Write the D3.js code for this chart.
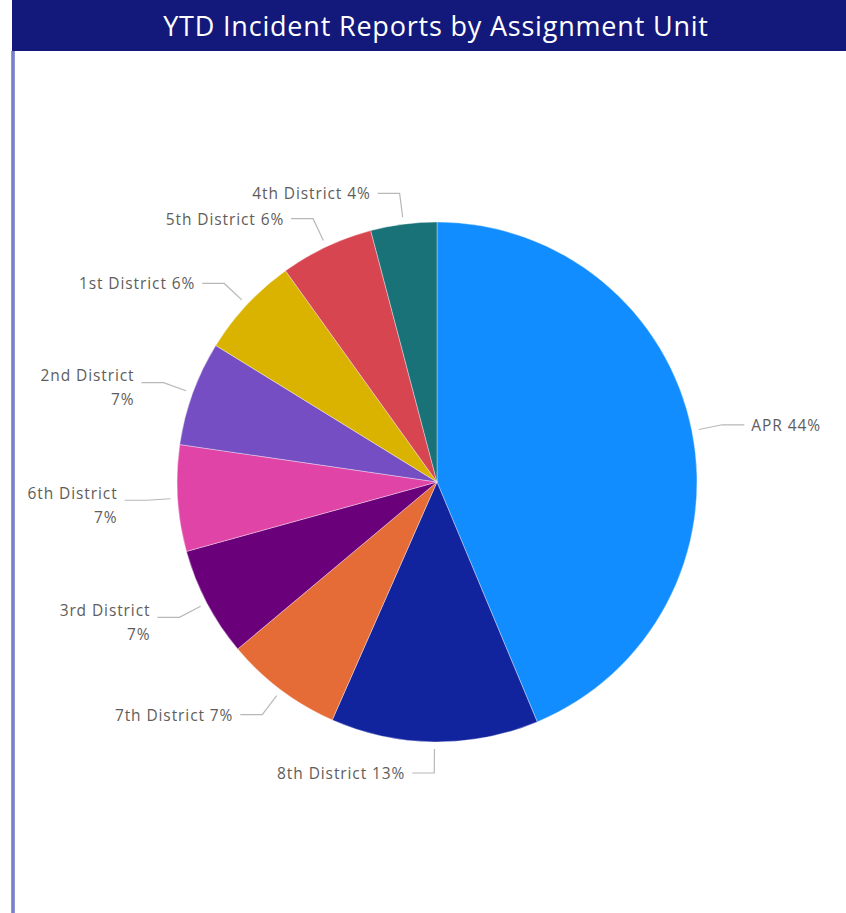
<!DOCTYPE html>
<html>
<head>
<meta charset="utf-8">
<script src="https://cdn.jsdelivr.net/npm/d3@7"></script>
<style>
  html, body { margin: 0; padding: 0; background: #fff; }
  svg { display: block; }
</style>
</head>
<body>
<svg id="chart" width="846" height="913"></svg>
<script>
const title = "YTD Incident Reports by Assignment Unit";
const categories = ["APR", "8th District", "7th District", "3rd District", "6th District", "2nd District", "1st District", "5th District", "4th District"];
const values = [43.7, 12.9, 7.3, 6.8, 6.6, 6.5, 6.3, 5.8, 4.1];
const colors = ["#118DFF", "#12239E", "#E66C37", "#6B007B", "#E044A7", "#744EC2", "#D9B300", "#D64550", "#197278"];

const W = 846, H = 913;
const svg = d3.select("#chart");

// frame
svg.append("rect").attr("x", 12).attr("y", 0).attr("width", W - 12).attr("height", 51).attr("fill", "#13197A");
svg.append("rect").attr("x", 11).attr("y", 51).attr("width", 4).attr("height", H - 51).attr("fill", "#9296D4");
svg.append("rect").attr("x", 12).attr("y", 51).attr("width", 2).attr("height", H - 51).attr("fill", "#7A7FC8");
svg.append("text").attr("x", 436).attr("y", 25).attr("text-anchor", "middle").attr("dominant-baseline", "central")
  .attr("fill", "#fff").attr("font-family", "'Open Sans', sans-serif").attr("font-size", 27)
  .attr("letter-spacing", 0.8)
  .text(title);

const cx = 437, cy = 482, r = 260;
const total = d3.sum(values);
const data = categories.map((c, i) => ({ name: c, value: values[i], color: colors[i], pct: Math.round(values[i] / total * 100) }));

const pie = d3.pie().value(d => d.value).sort(null);
const arcs = pie(data);
const arc = d3.arc().innerRadius(0).outerRadius(r);
const g = svg.append("g").attr("transform", `translate(${cx},${cy})`);

g.selectAll("path.slice").data(arcs).join("path")
  .attr("class", "slice")
  .attr("d", arc)
  .attr("fill", d => d.data.color)
  .attr("stroke", "#fff").attr("stroke-width", 0.6).attr("stroke-opacity", 0.6);

const anchorArc = d3.arc().innerRadius(r + 7).outerRadius(r + 7);
const elbowArc = d3.arc().innerRadius(r + 31).outerRadius(r + 31);

const labels = g.append("g");
arcs.forEach(a => {
  const mid = (a.startAngle + a.endAngle) / 2;
  const [ax, ay] = anchorArc.centroid(a);
  const [ex, ey] = elbowArc.centroid(a);
  const right = Math.sin(mid) > 0;
  const hx = ex + (right ? 22 : -22);
  labels.append("path")
    .attr("d", `M${ax},${ay}L${ex},${ey}L${hx},${ey}`)
    .attr("fill", "none").attr("stroke", "#B8B8B8").attr("stroke-width", 1.2);
  const tx = hx + (right ? 7 : -7);
  const t = labels.append("text")
    .attr("x", tx).attr("y", ey)
    .attr("text-anchor", right ? "start" : "end")
    .attr("fill", "#5F5D5B")
    .attr("font-family", "'Open Sans', sans-serif").attr("font-size", 15.5)
    .attr("letter-spacing", 0.9);
  const wrap = !right && Math.abs(Math.sin(mid)) > 0.85;
  if (wrap) {
    t.append("tspan").attr("x", tx).attr("dy", "-0.5em").attr("dominant-baseline", "central").text(a.data.name);
    t.append("tspan").attr("x", tx).attr("dy", "1.55em").attr("dominant-baseline", "central").text(a.data.pct + "%");
  } else {
    t.attr("dominant-baseline", "central").text(`${a.data.name} ${a.data.pct}%`);
  }
});
</script>
</body>
</html>
